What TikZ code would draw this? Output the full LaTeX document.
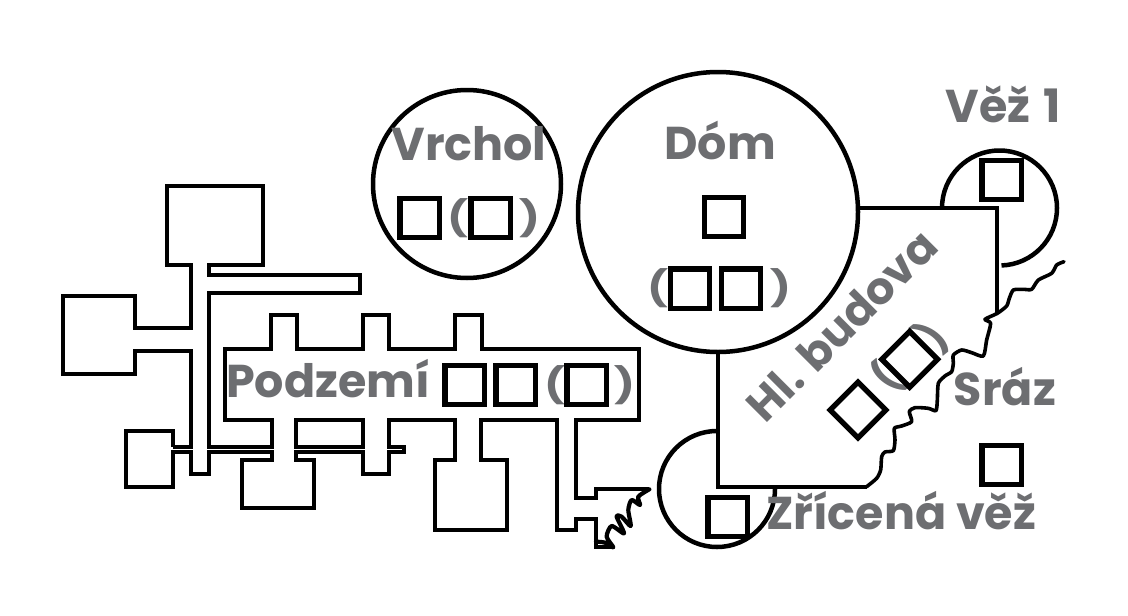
\documentclass[tikz,border=0pt]{standalone}
\usepackage{fontspec}
\setmainfont{Poppins}
\definecolor{lab}{HTML}{6D6E71}
\tikzset{
  wall/.style={draw=black,line width=4pt,miter limit=10},
  ringline/.style={draw=black,line width=4.5pt},
  cliff/.style={draw=black,line width=3.6pt,line join=round,line cap=round},
  sq/.style={draw=black,line width=5.4pt,fill=white,minimum size=39.4pt,inner sep=0pt,outer sep=0pt,shape=rectangle},
  lbl/.style={text=lab,font=\fontsize{46}{46}\selectfont\bfseries,anchor=base,inner sep=0pt,outer sep=0pt},
  par/.style={text=lab,font=\fontsize{35}{35}\selectfont\bfseries,anchor=center,inner sep=0pt,outer sep=0pt,xscale=1.25}
}
\begin{document}
\begin{tikzpicture}[x=1pt,y=-1pt]
\useasboundingbox (0,0) rectangle (1128,616);
% dungeon
\draw[wall] (173,447)--(173,431)--(126,431)--(126,487)--(173,487)--(173,452)--(191,452)--(191,474)--(209,474)--(209,452)--(272,452)--(272,460)--(242,460)--(242,508)--(314,508)--(314,460)--(296,460)--(296,452)--(363,452)--(363,474)--(389,474)--(389,452)--(404,452)--(404,447)--(389,447)--(389,420)--(455,420)--(455,460)--(435,460)--(435,530)--(507,530)--(507,460)--(481,460)--(481,420)--(557,420)--(557,530)--(576,530)--(576,519)--(596,519)--(596,547)--(613,547);
\draw[wall] (173,447)--(191,447)--(191,351)--(135,351)--(135,374)--(63,374)--(63,296)--(135,296)--(135,328)--(191,328)--(191,265)--(167,265)--(167,186)--(263,186)--(263,265)--(209,265)--(209,275)--(360,275)--(360,293)--(209,293)--(209,447)--(272,447)--(272,420)--(225,420)--(225,349)--(271,349)--(271,315)--(297,315)--(297,349)--(363,349)--(363,315)--(389,315)--(389,349)--(455,349)--(455,315)--(482,315)--(482,349)--(639,349)--(639,420)--(576,420)--(576,498)--(596,498)--(596,489)--(649,489);
\draw[wall] (296,420) rectangle (363,447);
% squiggle at broken end
\begin{scope}[shift={(420,400)},x=0.3333pt,y=-0.3333pt]
\draw[cliff,line width=4.2pt] plot[smooth,tension=0.45] coordinates {(688,268)(655,290)(660,315)(635,300)(625,330)(632,378)(605,350)(590,350)(612,400)(575,378)(560,410)(580,442)(555,428)(528,425)};
\end{scope}
% rings
\draw[ringline] (467,184) circle[radius=94];
\draw[ringline] (718,212) circle[radius=140];
\draw[ringline] (942,208) arc[start angle=180,end angle=448,radius=57.5];
\draw[ringline] (717,431) arc[start angle=-90,end angle=-360,radius=58];
% main building
\draw[wall,line width=4.5pt] (718,353)--(718,487)--(867,487);
\draw[wall,line width=4.5pt] (858,208)--(997,208)--(997,313);
% cliff edge
\begin{scope}[shift={(860,240)},x=0.3333pt,y=-0.3333pt]
\draw[cliff] plot[smooth,tension=0.4] coordinates {(20,740)(50,715)(62,690)(65,650)(75,636)(100,632)(105,600)(103,565)(125,558)(155,545)(148,515)(165,503)(205,505)(228,512)(232,480)(235,430)(255,408)(275,395)(280,370)(280,345)(305,330)(335,338)(370,348)(380,300)(392,250)(375,238)(412,220)(440,198)(448,175)(460,150)(490,148)(515,148)(535,120)(575,100)(590,75)(612,65)};
\end{scope}
% labels
\node[lbl] (tVrchol) at (469,160) {Vrchol};
\node[lbl] (tDom) at (720,159) {Dóm};
\node[lbl] (tPodzemi) at (328,397) {Podzemí};
\node[lbl] (tVez) at (1003,122) {Věž\hspace{3pt} 1};
\node[lbl] (tSraz) at (1005,405) {Sráz};
\node[lbl] (tZricena) at (901,529) {Zřícená věž};
\node[lbl,rotate=45,anchor=center,font=\fontsize{44.5}{44.5}\selectfont\bfseries] (tBudova) at (842,325) {Hl. budova};
% parens
\node[par] (p1) at (458,218) {(};
\node[par] (p2) at (530,218) {)};
\node[par] (p3) at (658,288) {(};
\node[par] (p4) at (781,288) {)};
\node[par] (p5) at (555,385) {(};
\node[par] (p6) at (625,385) {)};
\node[par,rotate=45] (p7) at (887,378) {(};
\node[par,rotate=45] (p8) at (933,337) {)};
% squares
\node[sq] (s1) at (419.5,218) {};
\node[sq] (s2) at (490.5,218) {};
\node[sq] (s3) at (724,217) {};
\node[sq] (s4) at (690,288.5) {};
\node[sq] (s5) at (741,288.5) {};
\node[sq] (s6) at (464.5,385) {};
\node[sq] (s7) at (515.5,385) {};
\node[sq] (s8) at (586.5,385) {};
\node[sq] (s9) at (1001.5,180) {};
\node[sq] (s10) at (1001.5,465) {};
\node[sq] (s11) at (727.5,517) {};
\node[sq,rotate=45] (s12) at (858,410) {};
\node[sq,rotate=45] (s13) at (909.7,359.3) {};
\end{tikzpicture}
\end{document}
